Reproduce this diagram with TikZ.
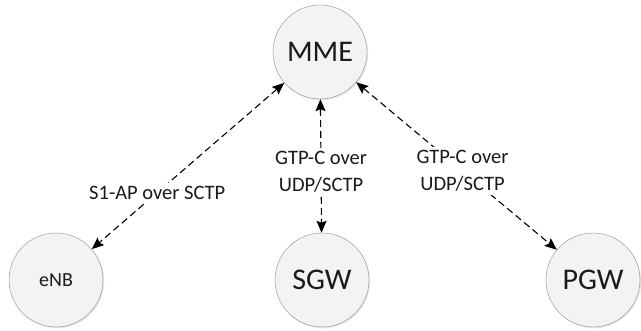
\documentclass[tikz,border=0pt]{standalone}
\usepackage{fontspec}
\setmainfont{Carlito}
\usetikzlibrary{shapes.geometric, arrows.meta, shadows}
\definecolor{nodefill}{HTML}{F3F3F3}
\definecolor{nodeline}{HTML}{8C8C8C}
\definecolor{inktext}{HTML}{1A1A1A}
\tikzstyle{entity} = [circle, 
minimum size=94pt, 
inner sep=0pt, 
text centered, 
draw=nodeline, 
fill=nodefill, 
text=inktext, 
font=\fontsize{30}{36}\selectfont,
drop shadow={opacity=0.2, shadow xshift=1.2pt, shadow yshift=-1.2pt}]
\tikzstyle{smallentity} = [entity, font=\fontsize{20}{24}\selectfont]
\tikzstyle{proto} = [fill=white, 
align=center, 
inner sep=3pt, 
text=inktext, 
font=\fontsize{20.5}{27}\selectfont]
\tikzstyle{arrow} = [line width=1.1pt, <->, >={Stealth[length=12pt,width=10pt,inset=2pt]}, dash pattern=on 7pt off 4pt]

\begin{document}
\begin{tikzpicture}[x=1pt, y=1pt, node distance=228pt]

\useasboundingbox (0,0) rectangle (641,331);

\node (mme) [entity] at (320,279) {MME};
\node (sgw) [entity, below of=mme, xshift=2pt] {SGW};
\node (enb) [smallentity, left of=sgw, xshift=-38pt] {eNB};
\node (pgw) [entity, right of=sgw, xshift=43pt] {PGW};

\draw [arrow] (mme) -- (enb) node[proto, pos=0.66] {S1-AP over SCTP};
\draw [arrow] (mme) -- (sgw) node[proto, pos=0.545] {GTP-C over\\UDP/SCTP};
\draw [arrow] (mme) -- (pgw) node[proto, pos=0.53] {GTP-C over\\UDP/SCTP};

\end{tikzpicture}
\end{document}
